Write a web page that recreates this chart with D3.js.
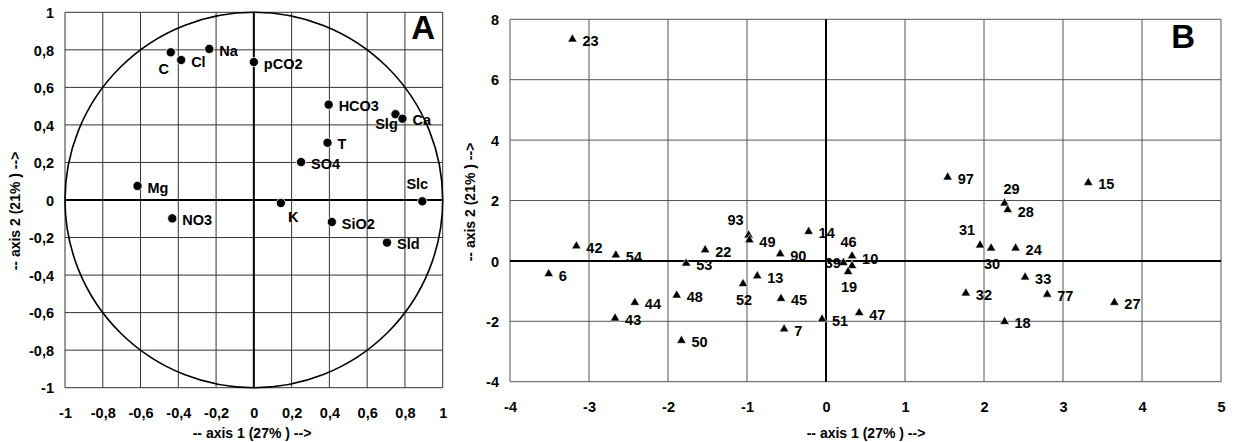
<!DOCTYPE html>
<html>
<head>
<meta charset="utf-8">
<script src="https://cdn.jsdelivr.net/npm/d3@7"></script>
<style>
  html, body { margin: 0; padding: 0; background: #fff; }
  svg { display: block; }
  text { font-family: "Liberation Sans", Arial, sans-serif; font-weight: bold; fill: #000; }
</style>
</head>
<body>
<svg id="chart" width="1238" height="442"></svg>
<script>
// ---------- Panel A: variables (correlation circle) ----------
const varNames  = ["C", "Cl", "Na", "pCO2", "HCO3", "Slg", "Ca", "T", "SO4", "Mg", "Slc", "K", "NO3", "SiO2", "Sld"];
const varAxis1  = [-0.44, -0.385, -0.236, 0.0, 0.396, 0.75, 0.787, 0.39, 0.25, -0.616, 0.892, 0.143, -0.432, 0.413, 0.705];
const varAxis2  = [0.787, 0.746, 0.805, 0.735, 0.508, 0.457, 0.433, 0.305, 0.202, 0.075, -0.007, -0.016, -0.098, -0.117, -0.227];
const varLabelPlace = ["bl", "r", "r", "r", "r", "lb", "r", "r", "r", "r", "at", "br", "r", "r", "r"];
const ticksA = [-1, -0.8, -0.6, -0.4, -0.2, 0, 0.2, 0.4, 0.6, 0.8, 1];

// ---------- Panel B: samples ----------
const sampleIds   = ["23", "42", "54", "6", "53", "22", "93", "49", "90", "14", "13", "52", "48", "44", "43", "50", "45", "7", "51",
                     "39", "46", "10", "19", "47", "97", "15", "29", "28", "31", "30", "24", "33", "32", "77", "27", "18"];
const sampleAxis1 = [-3.21, -3.16, -2.66, -3.51, -1.77, -1.53, -0.98, -0.97, -0.58, -0.22, -0.87, -1.05, -1.89, -2.42, -2.67, -1.83, -0.57, -0.53, -0.05,
                     0.22, 0.33, 0.33, 0.28, 0.42, 1.54, 3.32, 2.26, 2.30, 1.95, 2.09, 2.40, 2.52, 1.77, 2.80, 3.65, 2.26];
const sampleAxis2 = [7.34, 0.49, 0.19, -0.43, -0.08, 0.36, 0.85, 0.69, 0.23, 0.97, -0.50, -0.76, -1.14, -1.38, -1.90, -2.64, -1.25, -2.26, -1.93,
                     -0.06, 0.16, -0.16, -0.36, -1.72, 2.77, 2.59, 1.91, 1.69, 0.52, 0.42, 0.42, -0.54, -1.07, -1.11, -1.38, -2.01];
const sampleLabelPlace = ["r", "r", "r", "r", "r", "r", "al", "r", "r", "r", "r", "b", "r", "r", "r", "r", "r", "r", "r",
                          "l", "a", "ru", "b", "r", "r", "r", "ar", "r", "al", "b", "r", "r", "r", "r", "r", "r"];
const ticksBx = [-4, -3, -2, -1, 0, 1, 2, 3, 4, 5];
const ticksBy = [-4, -2, 0, 2, 4, 6, 8];

const axisTitleX = "-- axis 1 (27% ) -->";
const axisTitleY = "-- axis 2 (21% ) -->";

// ---------- drawing ----------
const svg = d3.select("#chart");
svg.append("rect").attr("width", 1238).attr("height", 442).attr("fill", "#fff");

const fmt = d => {
  if (Number.isInteger(d)) return String(d);
  return (d < 0 ? "-" : "") + Math.abs(d).toFixed(1).replace(".", ",");
};

// label offsets: [dx, dy (to text centre), anchor]
const place = {
  r:  [10, 1.5, "start"],
  a:  [-3.5, -14.5, "middle"],
  al: [-13, -15, "middle"],
  ar: [7, -14.5, "middle"],
  at: [-5, -18, "middle"],
  b:  [1, 15.5, "middle"],
  bl: [-7, 16, "middle"],
  lb: [-9, 10, "middle"],
  br: [12.5, 14, "middle"],
  l:  [-2.5, 0, "end"],
  ru: [10, -6.5, "start"]
};

function panel(cfg) {
  const g = svg.append("g");
  const x = d3.scaleLinear().domain(cfg.xDomain).range(cfg.xRange);
  const y = d3.scaleLinear().domain(cfg.yDomain).range(cfg.yRange);
  const [xl, xr] = cfg.xRange;
  const yb = cfg.yRange[0], yt = cfg.yRange[1];

  // grid
  g.append("g").selectAll("line").data(cfg.xTicks.filter(d => d !== 0)).join("line")
    .attr("x1", d => x(d)).attr("x2", d => x(d)).attr("y1", yt).attr("y2", yb)
    .attr("stroke", cfg.gridColor).attr("stroke-width", 1);
  g.append("g").selectAll("line").data(cfg.yTicks.filter(d => d !== 0)).join("line")
    .attr("y1", d => y(d)).attr("y2", d => y(d)).attr("x1", xl).attr("x2", xr)
    .attr("stroke", cfg.gridColor).attr("stroke-width", 1);
  // zero lines
  g.append("line").attr("x1", x(0)).attr("x2", x(0)).attr("y1", yt).attr("y2", yb)
    .attr("stroke", "#000").attr("stroke-width", 2);
  g.append("line").attr("y1", y(0)).attr("y2", y(0)).attr("x1", xl).attr("x2", xr)
    .attr("stroke", "#000").attr("stroke-width", 2);

  if (cfg.circle) {
    g.append("ellipse").attr("cx", x(0)).attr("cy", y(0))
      .attr("rx", x(1) - x(0)).attr("ry", y(0) - y(1))
      .attr("fill", "none").attr("stroke", "#000").attr("stroke-width", 1.6);
  }

  // tick labels via axes (no tick marks, no domain)
  const ax = g.append("g").attr("transform", `translate(0,${yb + 20})`)
    .call(d3.axisBottom(x).tickValues(cfg.xTicks).tickFormat(fmt).tickSize(0).tickPadding(0));
  ax.select(".domain").remove();
  ax.selectAll("text").attr("font-size", 14.5).attr("font-family", '"Liberation Sans", Arial, sans-serif')
    .attr("font-weight", "bold").attr("fill", "#000").attr("dy", "0.71em");
  const ay = g.append("g").attr("transform", `translate(${xl - 11},0)`)
    .call(d3.axisLeft(y).tickValues(cfg.yTicks).tickFormat(fmt).tickSize(0).tickPadding(0));
  ay.select(".domain").remove();
  ay.selectAll("text").attr("font-size", 14.5).attr("font-family", '"Liberation Sans", Arial, sans-serif')
    .attr("font-weight", "bold").attr("fill", "#000").attr("dy", "0.36em");

  // axis titles
  g.append("text").attr("x", cfg.titleX[0]).attr("y", cfg.titleX[1]).attr("text-anchor", "middle")
    .attr("font-size", 14).text(axisTitleX);
  g.append("text").attr("transform", `translate(${cfg.titleY[0]},${cfg.titleY[1]}) rotate(-90)`)
    .attr("text-anchor", "middle").attr("dy", "0.36em").attr("font-size", 14).text(axisTitleY);

  // panel letter
  g.append("text").attr("x", cfg.letterPos[0]).attr("y", cfg.letterPos[1]).attr("text-anchor", "end")
    .attr("font-size", 33).text(cfg.letter);

  // points
  const pts = cfg.names.map((n, i) => ({ n, a: cfg.a1[i], b: cfg.a2[i], p: cfg.places[i] }));
  if (cfg.marker === "circle") {
    g.append("g").selectAll("circle").data(pts).join("circle")
      .attr("cx", d => x(d.a)).attr("cy", d => y(d.b)).attr("r", 4.6)
      .attr("fill", "#000").attr("stroke", "#fff").attr("stroke-width", 0.8);
  } else {
    const sym = d3.symbol().type(d3.symbolTriangle).size(38);
    g.append("g").selectAll("path").data(pts).join("path")
      .attr("d", sym)
      .attr("transform", d => `translate(${x(d.a)},${y(d.b)})`)
      .attr("fill", "#000").attr("stroke", "#fff").attr("stroke-width", 0.6);
  }
  g.append("g").selectAll("text").data(pts).join("text")
    .attr("x", d => x(d.a) + place[d.p][0])
    .attr("y", d => y(d.b) + place[d.p][1])
    .attr("dy", "0.36em")
    .attr("text-anchor", d => place[d.p][2])
    .attr("font-size", 14.5)
    .text(d => d.n);
}

panel({
  xDomain: [-1, 1], xRange: [65, 442.7],
  yDomain: [-1, 1], yRange: [387.7, 12.3],
  xTicks: ticksA, yTicks: ticksA, gridColor: "#333",
  circle: true, marker: "circle",
  names: varNames, a1: varAxis1, a2: varAxis2, places: varLabelPlace,
  titleX: [252, 438], titleY: [15, 211],
  letter: "A", letterPos: [435, 38.5]
});

panel({
  xDomain: [-4, 5], xRange: [510, 1221],
  yDomain: [-4, 8], yRange: [381.7, 19.3],
  xTicks: ticksBx, yTicks: ticksBy, gridColor: "#555",
  circle: false, marker: "triangle",
  names: sampleIds, a1: sampleAxis1, a2: sampleAxis2, places: sampleLabelPlace,
  titleX: [866, 438], titleY: [470, 202],
  letter: "B", letterPos: [1195, 48]
});
</script>
</body>
</html>
